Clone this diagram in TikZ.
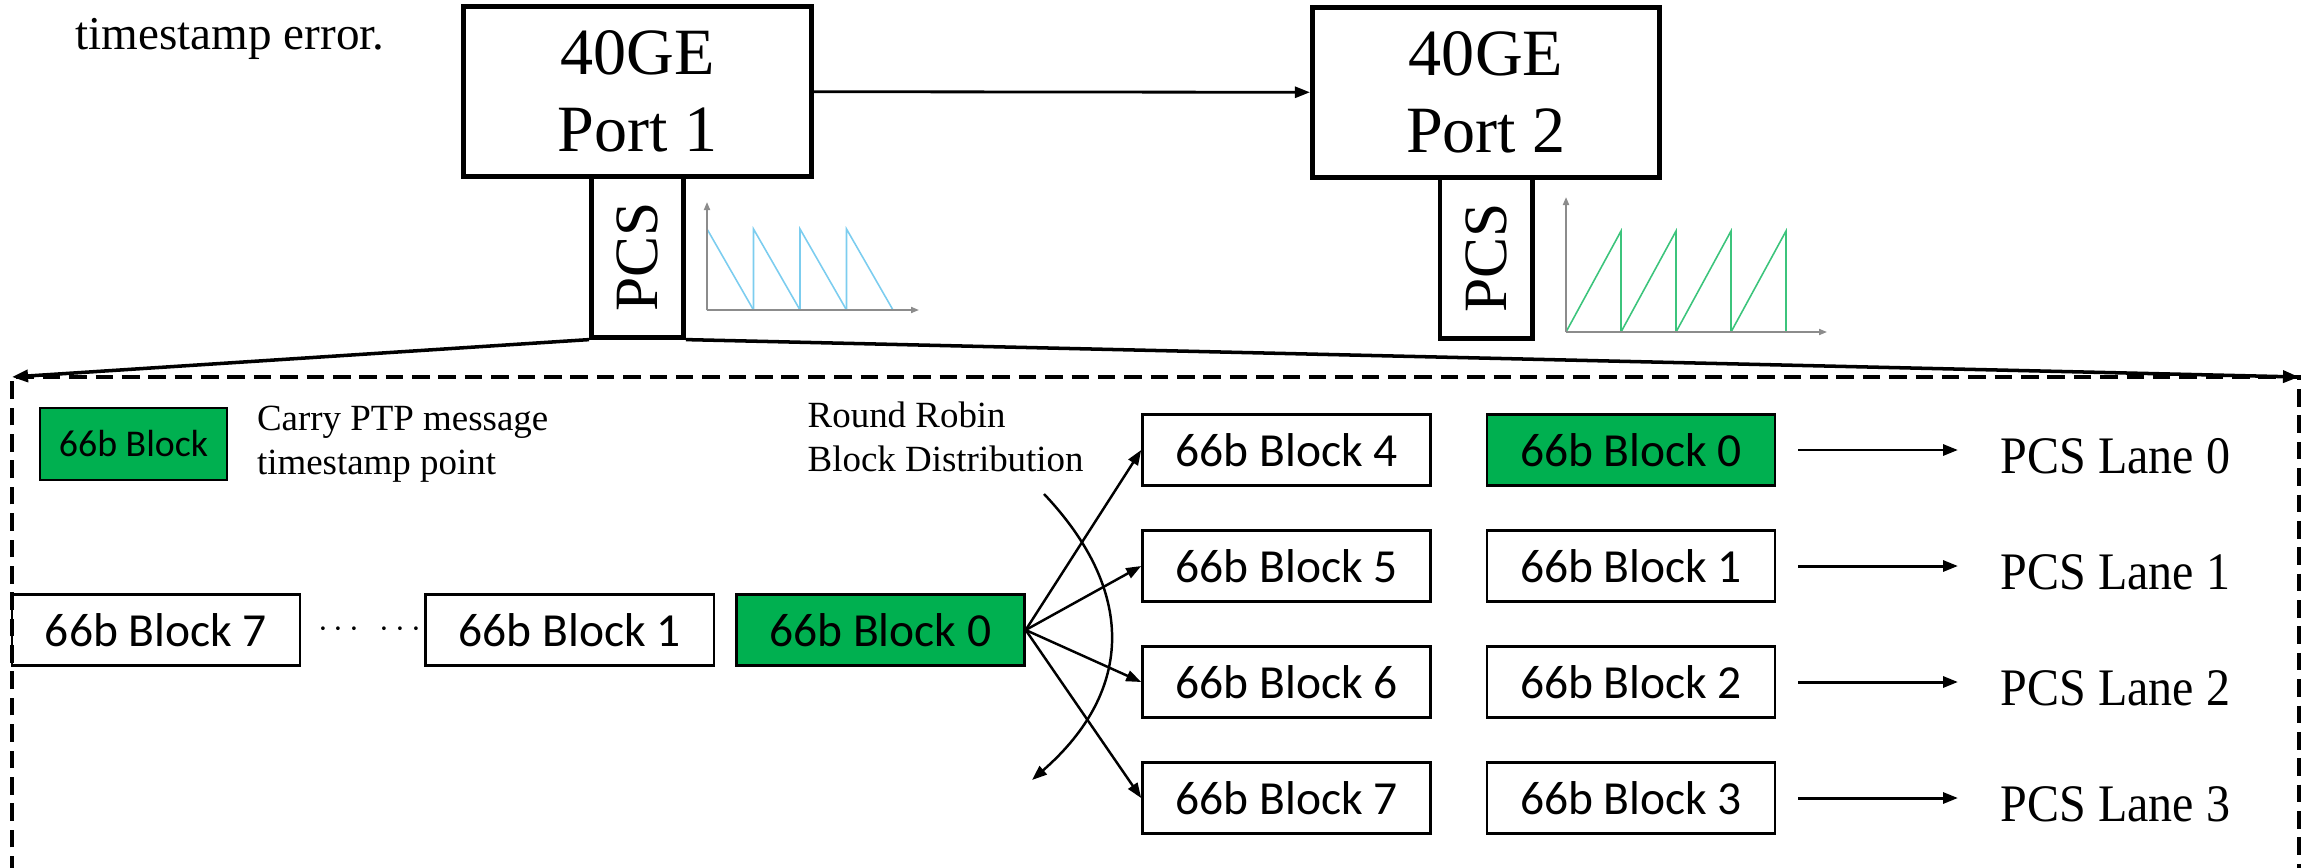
\documentclass[tikz,border=0pt]{standalone}
\usepackage{fontspec}
\setmainfont{Liberation Serif}
\newfontfamily\calibri{Carlito}
\newfontfamily\lanefont[FakeStretch=0.91]{Liberation Serif}
\usetikzlibrary{positioning,arrows.meta}
\definecolor{blkgreen}{HTML}{00B050}
\definecolor{sawblue}{HTML}{7CCDEF}
\definecolor{sawgreen}{HTML}{3CC47C}
\definecolor{axisgray}{HTML}{8C8C8C}
\begin{document}
\begin{tikzpicture}[x=0.01cm,y=-0.01cm,
                port/.style={draw,line width=1.4pt,minimum width=3.47cm,minimum height=1.69cm,align=center,font=\fontsize{18.8}{22}\selectfont},
                pcsbox/.style={draw,line width=1.4pt,minimum width=0.92cm,minimum height=1.61cm,inner sep=0pt,font=\fontsize{17.5}{18}\selectfont},
                blk/.style={draw,line width=0.7pt,minimum width=2.88cm,minimum height=0.71cm,inner sep=0pt,font=\calibri\fontsize{13.5}{15}\selectfont},
                note/.style={align=left,inner sep=0pt,font=\fontsize{10.5}{12.5}\selectfont},
                lane/.style={anchor=base west,inner sep=0pt,font=\lanefont\fontsize{15}{16}\selectfont},
                fanarrow/.style={line width=0.7pt,-{Triangle[length=0.15cm,width=0.11cm]}},
                axis/.style={draw=axisgray,line width=0.5pt,-{Triangle[length=0.08cm,width=0.06cm]}}]
                \useasboundingbox (0,0) rectangle (2304,867);
                \node[anchor=base west,inner sep=0pt,font=\fontsize{13.4}{15}\selectfont] (err) at (75,50) {timestamp error.};
                \node[port] (p1) at (637.5,91.5) {40GE\\Port 1};
                \node[port] (p2) at (1486,92.5) {40GE\\Port 2};
                \node[pcsbox,below=-1.4pt of p1] (pcs1) {\rotatebox{90}{PCS}};
                \node[pcsbox,below=-1.4pt of p2] (pcs2) {\rotatebox{90}{PCS}};
                \draw[line width=0.8pt,-{Triangle[length=0.15cm,width=0.11cm]}] (p1) -- (p2);
                \foreach \x in {707,753.5,800,846.5}
                    \draw[sawblue,line width=0.45pt] (\x,310) -- (\x,229) -- ++(46.5,81);
                \draw[axis] (707,310) -- (707,202);
                \draw[axis] (707,310) -- (919,310);
                \foreach \x in {1566,1621,1676,1731}
                    \draw[sawgreen,line width=0.45pt] (\x,332) -- ++(55,-101) -- ++(0,101);
                \draw[axis] (1566,332) -- (1566,197);
                \draw[axis] (1566,332) -- (1827,332);
                \coordinate (dl) at (12,377);
                \coordinate (dr) at (2299,377);
                \draw[line width=0.9pt,dash pattern=on 5pt off 2.5pt] (12,900) -- (dl) -- (dr) -- (2299,900);
                \draw[line width=1pt,-{Triangle[length=0.16cm,width=0.12cm]}] (pcs1.south west) -- (dl);
                \draw[line width=1pt,-{Triangle[length=0.16cm,width=0.12cm]}] (pcs1.south east) -- (dr);
                \node[blk,fill=blkgreen,minimum width=1.87cm,minimum height=0.72cm,font=\calibri\fontsize{10.75}{12}\selectfont] (leg) at (133.5,444) {66b Block};
                \node[note,right=0.28cm of leg] (legtxt) {Carry PTP message\\timestamp point};
                \node[note,anchor=west] (rr) at (807,437) {Round Robin\\Block Distribution};
                \node[blk] (a7) at (156,630) {66b Block 7};
                \node[right=0.16cm of a7,inner sep=0pt,font=\fontsize{10}{11}\selectfont] (dots) {$\cdots\hspace{0.15cm}\cdots$};
                \node[blk,right=1.23cm of a7] (a1) {66b Block 1};
                \node[blk,fill=blkgreen,right=0.2cm of a1] (a0) {66b Block 0};
                \foreach \i/\n/\f [evaluate=\i as \y using 450+116*(\i-4)] in {4/0/blkgreen,5/1/white,6/2/white,7/3/white} {
                    \node[blk] (c\i) at (1286.5,\y) {66b Block \i};
                    \node[blk,fill=\f] (d\n) at (1631,\y) {66b Block \n};
                    \node[lane] (l\n) at (2000,\y+23) {PCS Lane \n};
                    \draw[fanarrow] (a0.east) -- (c\i.west);
                    \draw[line width=0.85pt,-{Triangle[length=0.15cm,width=0.11cm]},shorten <=0.22cm,shorten >=0.42cm] (d\n.east) -- (d\n.east -| l\n.west);
                }
                \coordinate (rrs) at (1044,494);
                \coordinate (rre) at (1032,780);
                \draw[fanarrow] (rrs) .. controls (1135,590) and (1135,690) .. (rre);
            \end{tikzpicture}
\end{document}
